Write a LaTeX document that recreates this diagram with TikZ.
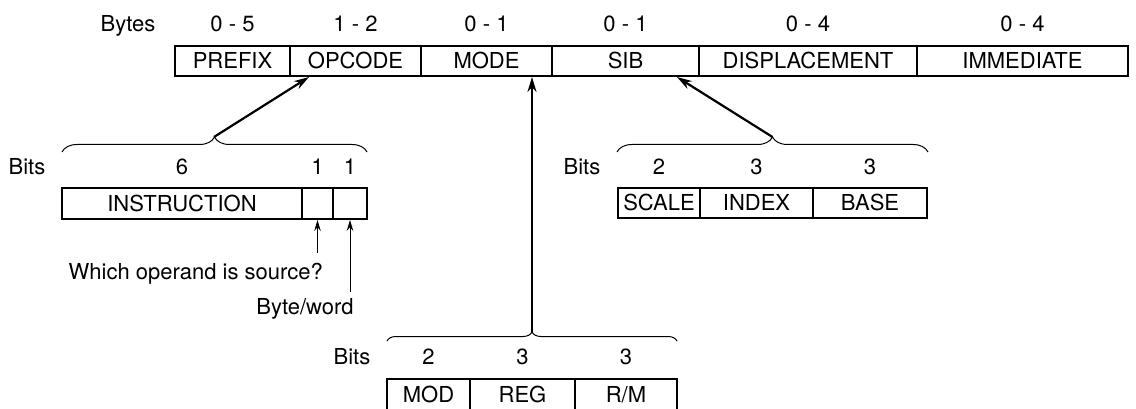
\documentclass[tikz,border=0pt]{standalone}
\usepackage{fontspec}
\setmainfont{TeX Gyre Heros}
\usetikzlibrary{arrows.meta,decorations.pathreplacing}
\begin{document}
\begin{tikzpicture}[x=1pt,y=-1pt,
  every node/.style={font=\fontsize{22}{26}\selectfont, inner sep=0pt, text height=15.8pt, text depth=0pt},
  field/.style={draw, line width=1.8pt, minimum height=30pt},
  lbl/.style={},
  bracepath/.style={decorate, line width=1pt, decoration={brace, amplitude=#1}},
  bigarrow/.style={line width=2.2pt, -{Stealth[length=15pt,width=9pt]}},
  smallarrow/.style={line width=1pt, -{Stealth[length=11pt,width=6.5pt]}}
]
\useasboundingbox (0,0) rectangle (1136,409);

% top row
\node[lbl] (bytes) at (128,24) {Bytes};
\node[field, minimum width=115pt] (prefix) at (232.5,61) {PREFIX};
\node[field, minimum width=131pt] (opcode) at (355.5,61) {OPCODE};
\node[field, minimum width=131pt] (mode) at (486.5,61) {MODE};
\node[field, minimum width=147pt] (sib) at (625.5,61) {SIB};
\node[field, minimum width=218pt] (disp) at (808,61) {DISPLACEMENT};
\node[field, minimum width=211pt] (imm) at (1022.5,61) {IMMEDIATE};
\node[lbl] (bprefix) at (232.5,24) {0 - 5};
\node[lbl] (bopcode) at (355.5,24) {1 - 2};
\node[lbl] (bmode) at (486.5,24) {0 - 1};
\node[lbl] (bsib) at (625.5,24) {0 - 1};
\node[lbl] (bdisp) at (808,24) {0 - 4};
\node[lbl] (bimm) at (1022.5,24) {0 - 4};

% opcode group
\draw[bracepath=15pt] (62,152) -- (367,152);
\coordinate (cuspop) at (214,137);
\coordinate (tipop) at (309,77);
\node[lbl] (bitsop) at (27,167) {Bits};
\node[lbl] (b6) at (182,167) {6};
\node[lbl] (b1a) at (317.5,167) {1};
\node[lbl] (b1b) at (350,167) {1};
\node[field, minimum width=240pt, minimum height=31pt] (instr) at (182,203.5) {INSTRUCTION};
\node[field, minimum width=31pt, minimum height=31pt] (dbit) at (317.5,203.5) {};
\node[field, minimum width=34pt, minimum height=31pt] (wbit) at (350,203.5) {};
\draw[bigarrow] (cuspop) -- (tipop);
\node[lbl, anchor=east] (which) at (323,272) {Which operand is source?};
\node[lbl] (byteword) at (305,307) {Byte/word};
\coordinate (dtail) at (317.5,253);
\coordinate (wtail) at (350,292);
\draw[smallarrow] (dtail) -- (dbit.south);
\draw[smallarrow] (wtail) -- (wbit.south);

% sib group
\draw[bracepath=15pt] (617,152) -- (928,152);
\coordinate (cuspsib) at (772.5,137);
\coordinate (tipsib) at (677,77);
\node[lbl] (bitssib) at (582,167) {Bits};
\node[lbl] (s2) at (659,167) {2};
\node[lbl] (s3a) at (756.5,167) {3};
\node[lbl] (s3b) at (870,167) {3};
\node[field, minimum width=82pt] (scale) at (659,203) {SCALE};
\node[field, minimum width=113pt] (index) at (756.5,203) {INDEX};
\node[field, minimum width=114pt] (base) at (870,203) {BASE};
\draw[bigarrow] (cuspsib) -- (tipsib);

% mode group
\draw[bracepath=9pt] (387,341) -- (677,341);
\coordinate (cuspmode) at (532,332);
\coordinate (tipmode) at (532,77);
\node[lbl] (bitsmode) at (352,357) {Bits};
\node[lbl] (m2) at (428.5,357) {2};
\node[lbl] (m3a) at (522.5,357) {3};
\node[lbl] (m3b) at (626,357) {3};
\node[field, minimum width=83pt, minimum height=32pt] (mod) at (428.5,395) {MOD};
\node[field, minimum width=105pt, minimum height=32pt] (reg) at (522.5,395) {REG};
\node[field, minimum width=102pt, minimum height=32pt] (rm) at (626,395) {R/M};
\draw[bigarrow] (cuspmode) -- (tipmode);
\end{tikzpicture}
\end{document}
